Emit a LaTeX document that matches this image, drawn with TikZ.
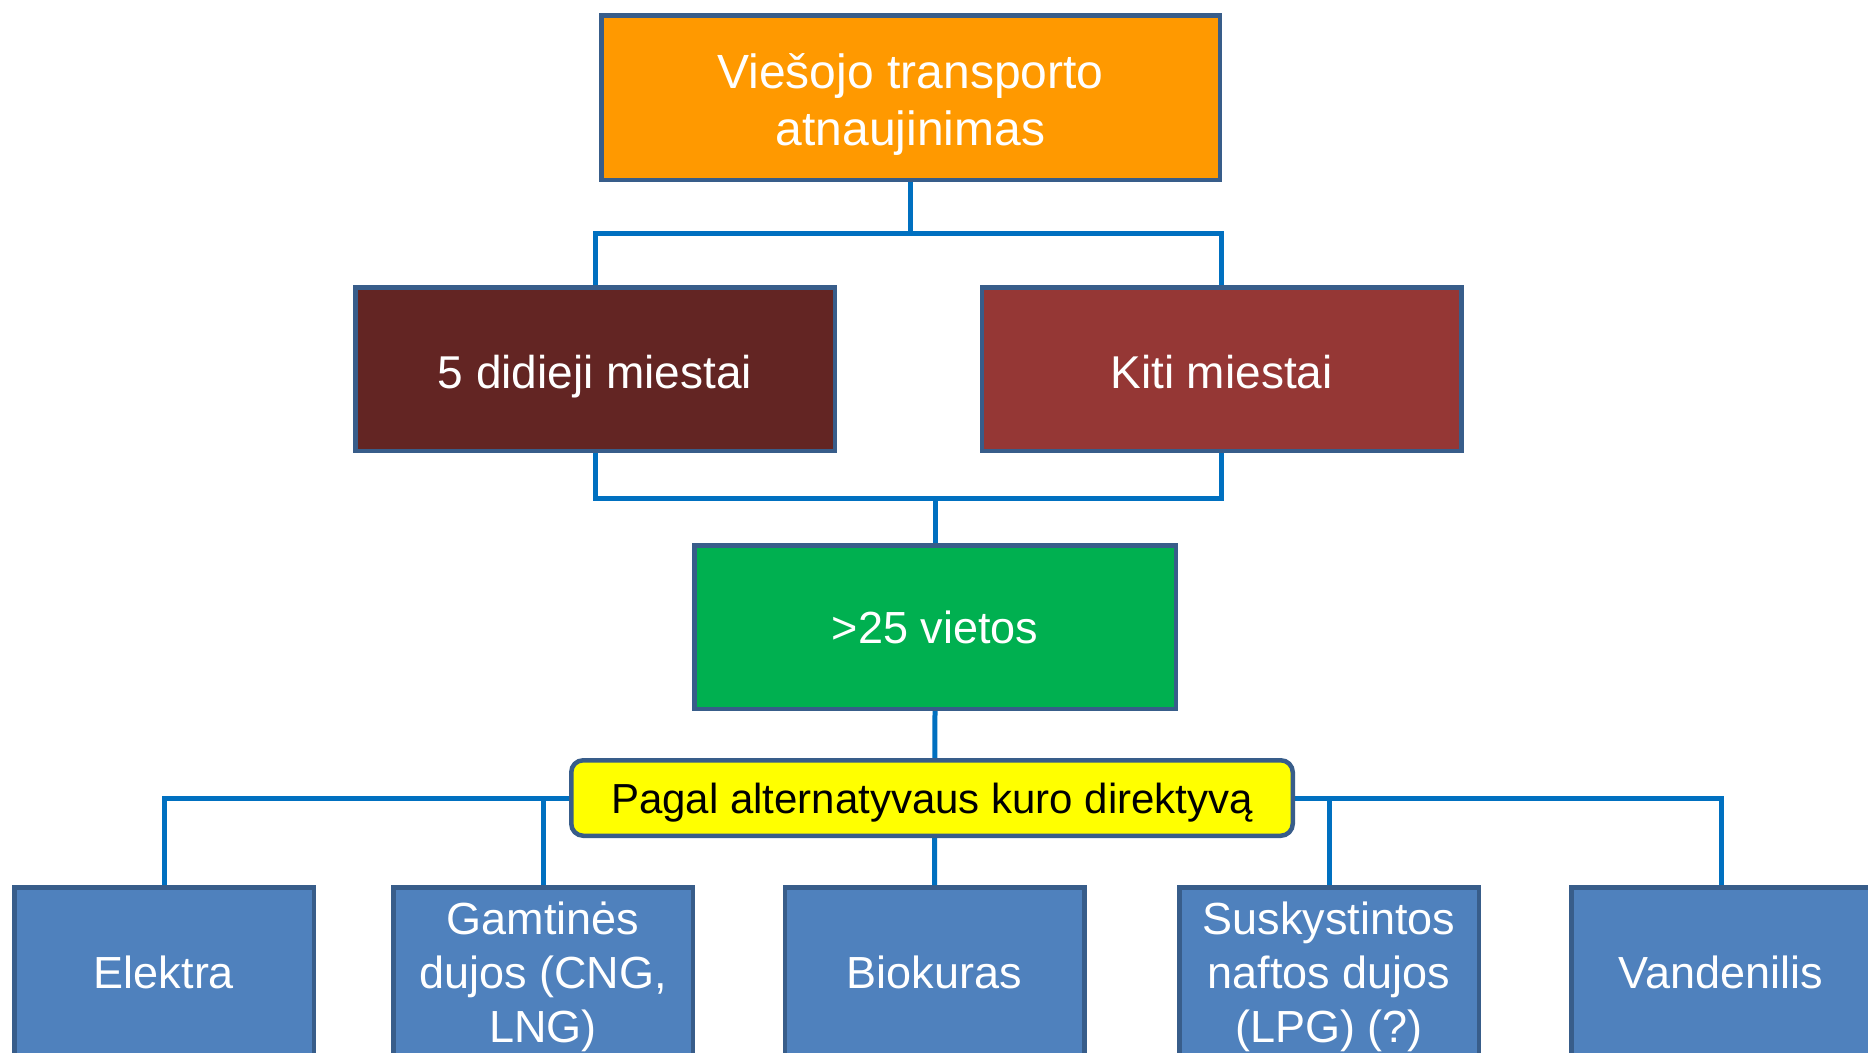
\documentclass[tikz,border=0pt]{standalone}
\usepackage{fontspec}
\setmainfont{Liberation Sans}
\definecolor{bord}{HTML}{385D8A}
\definecolor{conncol}{HTML}{0070C0}
\definecolor{orng}{HTML}{FF9900}
\definecolor{darkred}{HTML}{632523}
\definecolor{midred}{HTML}{953735}
\definecolor{grn}{HTML}{00B050}
\definecolor{yel}{HTML}{FFFF00}
\definecolor{blu}{HTML}{4F81BD}
\begin{document}
\begin{tikzpicture}[x=1pt,y=-1pt,
  box/.style={draw=bord, line width=4.5pt, text=white, align=center, inner sep=0pt},
  midbox/.style={box, minimum width=479.5pt, minimum height=163.5pt,
    font=\fontsize{46}{55}\selectfont, text height=38pt, text depth=0pt},
  fuelbox/.style={box, fill=blu, minimum width=299.5pt, minimum height=167.5pt,
    font=\fontsize{45}{54}\selectfont},
  oneline/.style={text height=34pt, text depth=0pt},
  threeline/.style={text height=142pt, text depth=0pt},
  conn/.style={draw=conncol, line width=5pt}]
\path[use as bounding box] (0,0) rectangle (1868,1052);
\clip (0,0) rectangle (1868,1052);

\coordinate (j1) at (910.5,233);
\coordinate (j2) at (935,498);
\coordinate (j3) at (935,798);

\node[box, fill=orng, minimum width=618.5pt, minimum height=164.5pt,
  font=\fontsize{48}{57}\selectfont, text height=95pt, text depth=0pt]
  (top) at (910.5,97.5) {Viešojo transporto\\atnaujinimas};
\node[midbox, fill=darkred] (m1) at (595,369) {5 didieji miestai};
\node[midbox, fill=midred] (m2) at (1221.5,369) {Kiti miestai};
\node[box, fill=grn, minimum width=481.5pt, minimum height=163.5pt,
  font=\fontsize{45}{54}\selectfont, text height=32pt, text depth=0pt]
  (g) at (935,627) {>25 vietos};

\node[fuelbox, oneline] (f1) at (164,971) {Elektra};
\node[fuelbox, threeline] (f2) at (543,971) {Gamtinės\\dujos (CNG,\\LNG)};
\node[fuelbox, oneline] (f3) at (934.5,971) {Biokuras};
\node[fuelbox, threeline] (f4) at (1329,971) {Suskystintos\\naftos dujos\\(LPG) (?)};
\node[fuelbox, oneline] (f5) at (1721,971) {Vandenilis};

\draw[conn] (top.south) -- (j1);
\draw[conn] (j1) -| (m1.north);
\draw[conn] (j1) -| (m2.north);
\draw[conn] (m1.south) |- (j2);
\draw[conn] (m2.south) |- (j2);
\draw[conn] (j2) -- (g.north);
\draw[conn] (g.south) -- (f3.north);
\draw[conn] (j3) -| (f1.north);
\draw[conn] (j3) -| (f2.north);
\draw[conn] (j3) -| (f4.north);
\draw[conn] (j3) -| (f5.north);

\node[box, fill=yel, text=black, rounded corners=12pt, minimum width=721.5pt,
  minimum height=75.5pt, font=\fontsize{42}{50}\selectfont,
  text height=30pt, text depth=0pt]
  (y) at (932,798) {Pagal alternatyvaus kuro direktyvą};
\end{tikzpicture}
\end{document}
